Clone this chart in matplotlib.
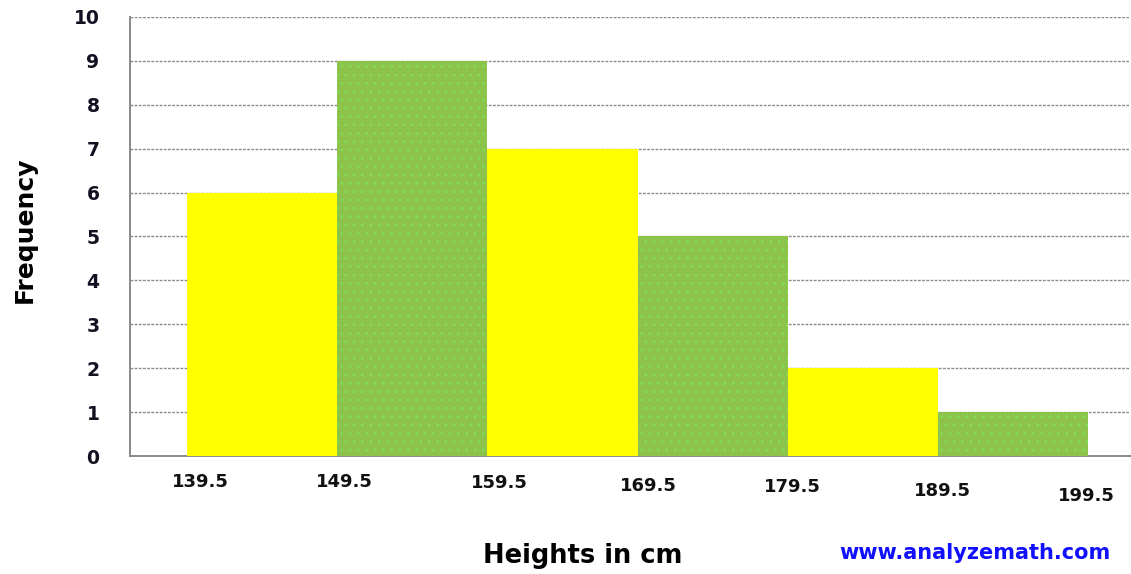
import numpy as np
import matplotlib.pyplot as plt

# class boundaries (cm) and frequencies
edges = [139.5, 149.5, 159.5, 169.5, 179.5, 189.5, 199.5]
freq = [6, 9, 7, 5, 2, 1]
edge_labels = ['139.5', '149.5', '159.5', '169.5', '179.5', '189.5', '199.5']
y_ticks = list(range(0, 11))

yellow = '#ffff00'
green = '#8cc44b'

plt.rcParams['font.family'] = ['DejaVu Sans']
plt.rcParams['hatch.linewidth'] = 0.6

fig = plt.figure(figsize=(11.31, 5.74), dpi=100)
ax = fig.add_axes([130 / 1131, 118 / 574, 1000 / 1131, 439 / 574])

left = np.array(edges[:-1])
widths = np.diff(edges)
for i, (x0, w, h) in enumerate(zip(left, widths, freq)):
    if i % 2 == 0:
        ax.bar(x0, h, width=w, align='edge', color=yellow, linewidth=0, zorder=3)
    else:
        ax.bar(x0, h, width=w, align='edge', color=green, linewidth=0,
               hatch='..', edgecolor='#7fe05c', zorder=3)

ax.set_xlim(135.7, 202.3)
ax.set_ylim(0, 10)

# grid
for y in y_ticks[1:]:
    ax.axhline(y, color='#8a8a8a', lw=1.0, ls=(0, (2, 1)), zorder=1)

for s in ['right', 'top']:
    ax.spines[s].set_visible(False)
for s in ['left', 'bottom']:
    ax.spines[s].set_color('#8a8a8a')
    ax.spines[s].set_linestyle((0, (2, 1)))
    ax.spines[s].set_linewidth(1.4)

ax.set_yticks(y_ticks)
ax.set_yticklabels([str(v) for v in y_ticks], fontsize=13.5, fontweight='bold',
                   color='#111122')
ax.tick_params(axis='y', length=0, pad=22)

# staggered x labels like the original
ax.set_xticks([])
x_shift = [0.9, 0.5, 0.8, 0.7, 0.3, 0.3, -0.1]
y_drop = [26, 26, 27, 30, 31, 35, 40]
for e, lab, dx, dy in zip(edges, edge_labels, x_shift, y_drop):
    ax.annotate(lab, xy=(e + dx, 0), xycoords='data', xytext=(0, -dy),
                textcoords='offset pixels', ha='center', va='center',
                fontsize=13, fontweight='bold', color='#111111')

fig.text(25 / 1131, 1 - 230 / 574, 'Frequency', rotation=90, ha='center',
         va='center', fontsize=18, fontweight='bold')
fig.text(583 / 1131, 1 - 556 / 574, 'Heights in cm', ha='center', va='center',
         fontsize=18.5, fontweight='bold')
fig.text(975 / 1131, 1 - 553 / 574, 'www.analyzemath.com', ha='center',
         va='center', fontsize=15, fontweight='bold', color='#1010ff')

plt.savefig('out.png', dpi=100)
plt.close()
